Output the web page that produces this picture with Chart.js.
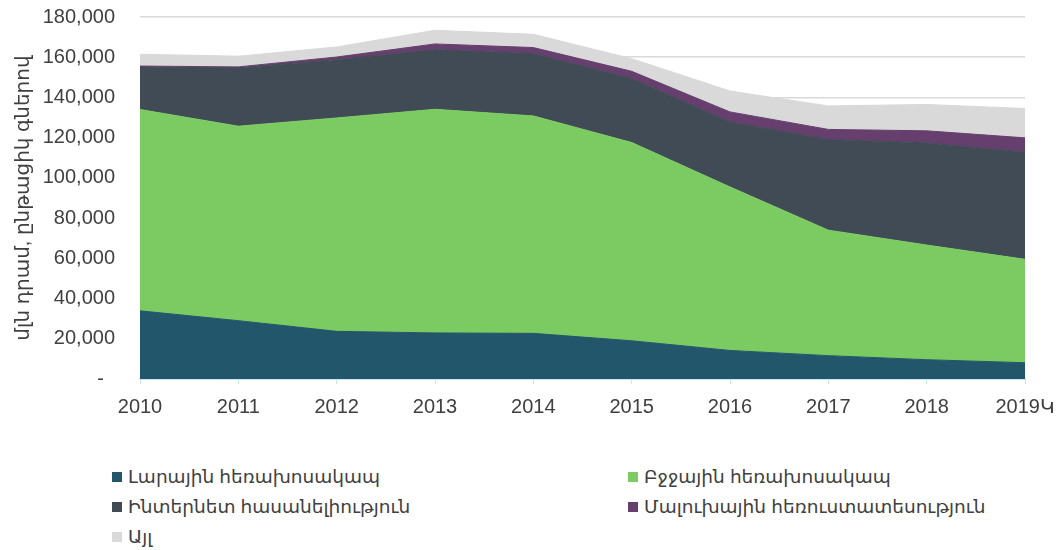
<!DOCTYPE html>
<html>
<head>
<meta charset="utf-8">
<script src="https://cdn.jsdelivr.net/npm/chart.js@4"></script>
<style>
  body { margin: 0; background: #fff; font-family: Arial, "Liberation Sans", "DejaVu Sans", sans-serif; }
  #wrap { position: relative; width: 1056px; height: 550px; }
  #box { position: absolute; left: 0; top: 0; width: 1056px; height: 440px; }
  .lg { position: absolute; display: flex; align-items: center; font-size: 18.5px; color: #404040; white-space: nowrap; }
  .lg span.sw { width: 10px; height: 10px; margin-right: 6px; display: inline-block; }
</style>
</head>
<body>
<div id="wrap">
  <div id="box"><canvas id="chart"></canvas></div>
  <div id="legend"></div>
</div>
<script>
const years = ['2010', '2011', '2012', '2013', '2014', '2015', '2016', '2017', '2018', '2019Կ'];
const fixedLine = [33900, 29000, 23700, 22900, 22700, 19000, 14200, 11600, 9600, 8100];
const mobile = [100100, 96700, 106100, 111200, 108100, 98600, 81300, 62400, 57000, 51400];
const internet = [21100, 29000, 29000, 29700, 31000, 31800, 32300, 45100, 50800, 53400];
const postal = [500, 500, 1300, 2800, 3000, 3600, 5000, 5000, 6000, 7000];
const other = [5900, 5300, 5000, 6800, 6600, 6300, 10400, 11700, 13100, 14600];

const seriesNames = ['Լարային հեռախոսակապ', 'Բջջային հեռախոսակապ', 'Ինտերնետ հասանելիություն', 'Մալուխային հեռուստատեսություն', 'Այլ'];
const seriesData = [fixedLine, mobile, internet, postal, other];
const colors = ['#22566A', '#7CCB62', '#414B56', '#673F6E', '#D9D9D9'];

const font = 'Arial, "Liberation Sans", "DejaVu Sans", sans-serif';

const datasets = seriesNames.map((name, i) => ({
    label: name,
    data: seriesData[i],
    backgroundColor: colors[i],
    borderColor: colors[i],
    borderWidth: 1,
    pointRadius: 0,
    pointHoverRadius: 0,
    tension: 0,
    fill: i === 0 ? 'origin' : '-1'
}));

const ctx = document.getElementById('chart').getContext('2d');
const chart = new Chart(ctx, {
    type: 'line',
    data: { labels: years, datasets: datasets },
    options: {
        responsive: true,
        maintainAspectRatio: false,
        animation: false,
        layout: { padding: { top: 17, right: 31, left: 0, bottom: 0 } },
        plugins: { legend: { display: false }, tooltip: { enabled: false } },
        scales: {
            x: {
                offset: false,
                z: 1,
                grid: { drawOnChartArea: false, drawTicks: true, tickLength: 5, color: '#C9E6F5' },
                border: { display: true, color: '#C9E6F5', width: 2 },
                ticks: { color: '#404040', font: { family: font, size: 20 }, padding: 11, maxRotation: 0 },
                afterFit: s => { s.height = 61; s.paddingLeft = 0; s.paddingRight = 0; }
            },
            y: {
                stacked: true,
                min: 0,
                max: 180000,
                border: { display: false },
                grid: { color: '#D9D9D9', drawTicks: false, lineWidth: 1.5 },
                ticks: {
                    stepSize: 20000,
                    color: '#404040',
                    padding: 25,
                    font: { family: font, size: 20 },
                    callback: v => v === 0 ? '-  ' : v.toLocaleString('en-US')
                },
                title: {
                    display: true,
                    text: 'մլն դրամ, ընթացիկ գներով',
                    color: '#404040',
                    font: { family: font, size: 20 },
                    padding: { top: 11, bottom: 0 }
                },
                afterFit: s => { s.width = 140; s.paddingTop = 0; s.paddingBottom = 0; }
            }
        }
    }
});

// legend in two columns, like the original
const legendPos = [
    [112, 478], [628, 478],
    [112, 508], [628, 508],
    [112, 538]
];
const legendBox = document.getElementById('legend');
chart.data.datasets.forEach((ds, i) => {
    const item = document.createElement('div');
    item.className = 'lg';
    item.style.left = legendPos[i][0] + 'px';
    item.style.top = (legendPos[i][1] - 12) + 'px';
    item.innerHTML = `<span class="sw" style="background:${ds.backgroundColor}"></span>${ds.label}`;
    legendBox.appendChild(item);
});
</script>
</body>
</html>
